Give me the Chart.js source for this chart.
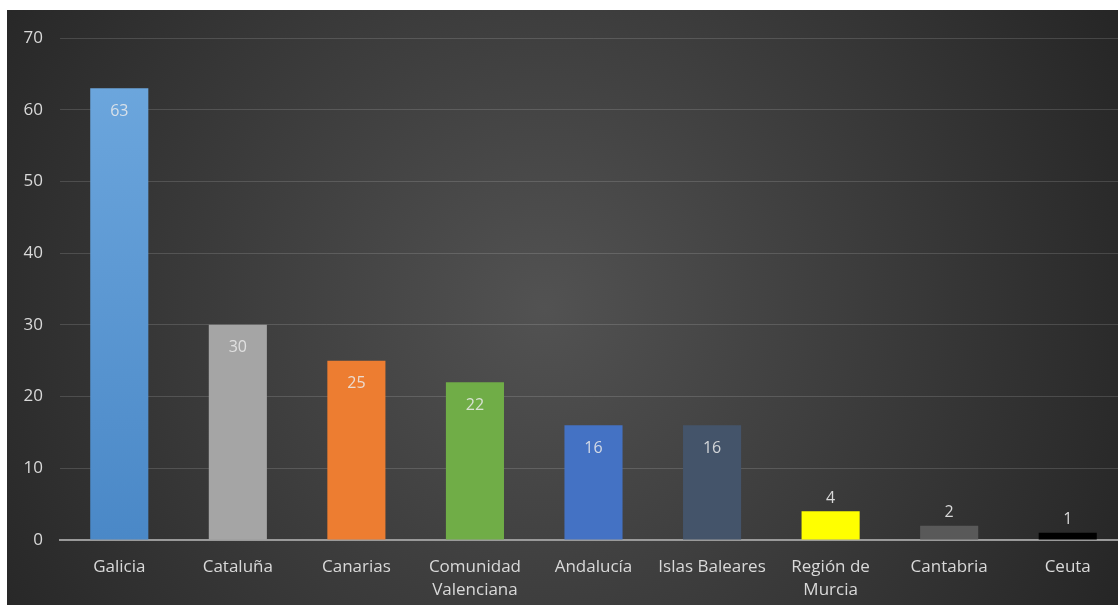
<!DOCTYPE html>
<html>
<head>
<meta charset="utf-8">
<script src="https://cdn.jsdelivr.net/npm/chart.js@4"></script>
<style>
  html, body { margin: 0; padding: 0; background: #fff; overflow: hidden; }
  #wrap { position: absolute; left: 7px; top: 10px; width: 1120px; height: 595px; }
</style>
</head>
<body>
<div id="wrap"><canvas id="regions_chart"></canvas></div>
<script>
const regiones = ['Galicia', 'Cataluña', 'Canarias', ['Comunidad', 'Valenciana'], 'Andalucía', 'Islas Baleares', ['Región de', 'Murcia'], 'Cantabria', 'Ceuta'];
const valores = [63, 30, 25, 22, 16, 16, 4, 2, 1];
const colores = ['#5B9BD5', '#A5A5A5', '#ED7D31', '#70AD47', '#4472C4', '#44546A', '#FFFF00', '#595959', '#000000'];
const ticksY = [0, 10, 20, 30, 40, 50, 60, 70];

const ctx = document.getElementById('regions_chart').getContext('2d');

Chart.defaults.font.family = "'Open Sans', sans-serif";
Chart.defaults.font.size = 16;
Chart.defaults.color = '#d9d9d9';

// dark radial background like the office theme
const fondo = {
    id: 'fondo',
    beforeDraw(chart) {
        const c = chart.ctx;
        const w = chart.width, h = chart.height;
        const g = c.createRadialGradient(w * 0.48, h * 0.5, 0, w * 0.48, h * 0.5, w * 0.6);
        g.addColorStop(0, '#525252');
        g.addColorStop(1, '#242424');
        c.save();
        c.fillStyle = g;
        c.fillRect(0, 0, w, h);
        c.restore();
    }
};

// value labels: inside the bar top for tall bars, above for short ones
const etiquetas = {
    id: 'etiquetas',
    afterDatasetsDraw(chart) {
        const c = chart.ctx;
        const meta = chart.getDatasetMeta(0);
        c.save();
        c.font = "16px 'Open Sans', sans-serif";
        c.textAlign = 'center';
        c.textBaseline = 'middle';
        meta.data.forEach((bar, i) => {
            const v = valores[i];
            if (v >= 10) {
                c.fillStyle = 'rgba(235,235,235,0.85)';
                c.fillText(v, bar.x, bar.y + 23);
            } else {
                c.fillStyle = '#d9d9d9';
                c.fillText(v, bar.x, bar.y - 13);
            }
        });
        c.restore();
    }
};

const chart = new Chart(ctx, {
    type: 'bar',
    data: {
        labels: regiones,
        datasets: [{
            data: valores,
            backgroundColor: (context) => {
                const i = context.dataIndex;
                const area = context.chart.chartArea;
                if (i === 0 && area) {
                    const g = context.chart.ctx.createLinearGradient(0, area.top, 0, area.bottom);
                    g.addColorStop(0, '#6FA9DF');
                    g.addColorStop(1, '#4A88C7');
                    return g;
                }
                return colores[i];
            },
            borderWidth: 0,
            barPercentage: 0.49,
            categoryPercentage: 1
        }]
    },
    plugins: [fondo, etiquetas],
    options: {
        responsive: true,
        maintainAspectRatio: false,
        animation: false,
        layout: {
            padding: { top: 28, right: 0, bottom: 0, left: 0 }
        },
        plugins: {
            legend: { display: false },
            tooltip: { enabled: false }
        },
        scales: {
            x: {
                grid: { display: false },
                border: { color: '#9a9a9a', width: 2 },
                ticks: {
                    color: '#d9d9d9',
                    font: { size: 17, lineHeight: 1.35 },
                    maxRotation: 0,
                    autoSkip: false,
                    padding: 8
                },
                afterFit(scale) { scale.height = 65; }
            },
            y: {
                min: 0,
                max: 70,
                afterBuildTicks(scale) { scale.ticks = ticksY.map(v => ({ value: v })); },
                grid: {
                    color: 'rgba(255,255,255,0.14)',
                    drawTicks: false
                },
                border: { display: false },
                ticks: {
                    color: '#d9d9d9',
                    font: { size: 17 },
                    padding: 17
                },
                afterFit(scale) { scale.width = 53; }
            }
        }
    }
});
</script>
</body>
</html>
